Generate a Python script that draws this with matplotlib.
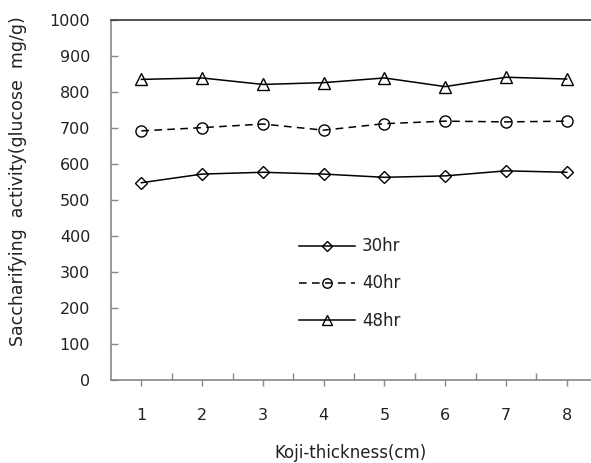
import matplotlib
matplotlib.use("Agg")
import matplotlib.pyplot as plt
from matplotlib.ticker import FixedLocator

thickness = [1, 2, 3, 4, 5, 6, 7, 8]
hr30 = [548, 572, 577, 572, 563, 567, 581, 577]
hr40 = [692, 701, 711, 694, 712, 719, 717, 719]
hr48 = [835, 839, 821, 826, 839, 815, 841, 836]
yticks = [0, 100, 200, 300, 400, 500, 600, 700, 800, 900, 1000]

plt.rcParams['font.family'] = ['DejaVu Sans']
txt = '#222222'
fs = 11.5

fig = plt.figure(figsize=(5.91, 4.63), dpi=100)
ax = fig.add_axes([111/591, 83/463, 480/591, 360/463])

ax.plot(thickness, hr30, color='black', lw=1.1, marker='D', ms=6,
        mfc='none', mec='black', mew=1.0, label='30hr')
ax.plot(thickness, hr40, color='black', lw=1.1, ls=(0, (5, 3.5)), marker='o', ms=8,
        mfc='none', mec='black', mew=1.0, label='40hr')
ax.plot(thickness, hr48, color='black', lw=1.1, marker='^', ms=8,
        mfc='none', mec='black', mew=1.0, label='48hr')

ax.set_xlim(0.5, 8.4)
ax.set_ylim(0, 1000)
ax.set_yticks(yticks)
ax.set_yticklabels([str(v) for v in yticks], fontsize=fs, color=txt)

ax.xaxis.set_major_locator(FixedLocator([1.5, 2.5, 3.5, 4.5, 5.5, 6.5, 7.5]))
ax.set_xticklabels([])
ax.set_xticks(thickness, minor=True)
ax.set_xticklabels([str(t) for t in thickness], minor=True, fontsize=fs, color=txt)
ax.tick_params(axis='x', which='major', direction='in', length=5, color='#888888', width=1)
ax.tick_params(axis='x', which='minor', direction='out', length=4, color='#888888', width=1, pad=16)
ax.tick_params(axis='y', which='major', direction='in', length=5, color='#888888', width=1, pad=15)

for s in ['left', 'bottom']:
    ax.spines[s].set_color('#888888')
    ax.spines[s].set_linewidth(1.2)
ax.spines['top'].set_color('#444444')
ax.spines['top'].set_linewidth(1.3)
ax.spines['right'].set_visible(False)

ax.set_xlabel('Koji-thickness(cm)', fontsize=12, color=txt, labelpad=15)
fig.text(18/591, 1 - 181/463, 'Saccharifying  activity(glucose  mg/g)', fontsize=12.5,
         color=txt, rotation=90, ha='center', va='center')

leg = ax.legend(loc='upper left', bbox_to_anchor=(291/591, 1 - 229/463),
                bbox_transform=fig.transFigure, frameon=False, fontsize=12,
                handlelength=3.35, handletextpad=0.42, labelspacing=1.15,
                borderpad=0, markerscale=0.85)
for t in leg.get_texts():
    t.set_color(txt)

fig.savefig('out.png', dpi=100)
